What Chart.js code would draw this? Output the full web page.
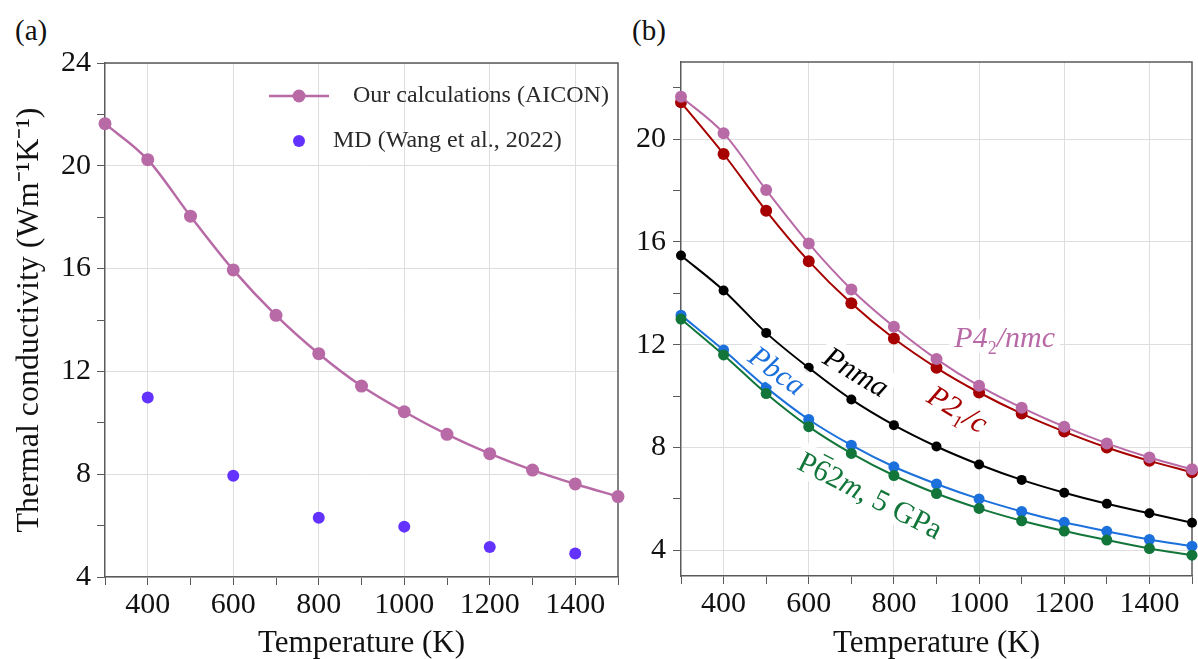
<!DOCTYPE html>
<html>
<head>
<meta charset="utf-8">
<script src="https://cdn.jsdelivr.net/npm/chart.js@4.4.1/dist/chart.umd.min.js"></script>
<style>
  body { margin: 0; background: #fff; width: 1198px; height: 659px; position: relative; overflow: hidden;
         font-family: "Liberation Serif", "Times New Roman", serif; }
  canvas { position: absolute; top: 0; }
  #chartA { left: 0; }
  #chartB { left: 620px; }
  .panel-label { position: absolute; font-size: 29px; color: #111; line-height: 1; }
</style>
</head>
<body>
<div class="panel-label" style="left:15px;top:16px">(a)</div>
<div class="panel-label" style="left:632px;top:16px">(b)</div>
<canvas id="chartA" width="630" height="659"></canvas>
<canvas id="chartB" width="578" height="659"></canvas>
<script>
// temperatures (K)
const temps = [300, 400, 500, 600, 700, 800, 900, 1000, 1100, 1200, 1300, 1400, 1500];

// panel (a)
const aiconVals = [21.64, 20.24, 18.04, 15.95, 14.18, 12.69, 11.43, 10.43, 9.55, 8.80, 8.16, 7.62, 7.13];
const mdTemps = [400, 600, 800, 1000, 1200, 1400];
const mdVals = [10.98, 7.94, 6.31, 5.96, 5.17, 4.91];

// panel (b)
const p42nmcVals = [21.65, 20.23, 18.02, 15.94, 14.15, 12.70, 11.44, 10.40, 9.55, 8.81, 8.16, 7.61, 7.15];
const p21cVals = [21.43, 19.42, 17.21, 15.25, 13.61, 12.24, 11.10, 10.14, 9.32, 8.62, 8.00, 7.48, 7.04];
const pnmaVals = [15.47, 14.11, 12.46, 11.10, 9.87, 8.87, 8.04, 7.34, 6.74, 6.24, 5.81, 5.44, 5.07];
const pbcaVals = [13.15, 11.79, 10.34, 9.09, 8.09, 7.25, 6.58, 6.00, 5.51, 5.09, 4.74, 4.42, 4.16];
const p62mVals = [13.00, 11.60, 10.10, 8.81, 7.77, 6.91, 6.21, 5.63, 5.15, 4.75, 4.40, 4.07, 3.81];

// ticks
const xTicks = [300, 400, 500, 600, 700, 800, 900, 1000, 1100, 1200, 1300, 1400, 1500];
const yTicksA = [4, 6, 8, 10, 12, 14, 16, 18, 20, 22, 24];
const yTicksB = [4, 6, 8, 10, 12, 14, 16, 18, 20, 22];

const PINK = "rgb(184, 106, 166)";
const RED = "rgb(166, 0, 0)";
const BLACK = "rgb(0, 0, 0)";
const BLUE = "rgb(28, 112, 220)";
const GREEN = "rgb(18, 118, 58)";
const VIOLET = "rgb(100, 50, 255)";
const AXIS = "#5a5a5a";
const GRID = "#dedede";
const SERIF = '"Liberation Serif", "Times New Roman", serif';

Chart.defaults.font.family = SERIF;

function toPoints(xs, ys) {
    return xs.map((x, i) => ({ x: x, y: ys[i] }));
}

function lineSet(label, vals, color, radius, width) {
    return {
        label: label,
        data: toPoints(temps, vals),
        borderColor: color,
        backgroundColor: color,
        borderWidth: width,
        pointRadius: radius,
        pointHoverRadius: radius,
        pointBorderWidth: 0,
        cubicInterpolationMode: 'monotone',
        clip: false
    };
}

function makeScales(cfg) {
    return {
        x: {
            type: 'linear', min: 300, max: 1500,
            afterBuildTicks: axis => { axis.ticks = xTicks.map(v => ({ value: v })); },
            afterFit: s => { s.height = cfg.xHeight; },
            ticks: {
                autoSkip: false, maxRotation: 0, padding: 2, color: '#111',
                font: { size: 30 },
                callback: v => (v % 200 === 0 ? String(v) : '')
            },
            grid: {
                color: c => (c.tick && c.tick.value % 200 === 0 ? GRID : 'rgba(0,0,0,0)'),
                tickColor: AXIS, tickLength: 8, lineWidth: 1
            },
            border: { color: AXIS, width: 1.5 },
            title: {
                display: true, text: 'Temperature (K)', color: '#111',
                font: { size: 31 }, padding: { top: 0, bottom: -3 }
            }
        },
        y: {
            type: 'linear', min: cfg.yMin, max: cfg.yMax,
            afterBuildTicks: axis => { axis.ticks = cfg.yTicks.map(v => ({ value: v })); },
            afterFit: s => { s.width = cfg.yWidth; },
            ticks: {
                autoSkip: false, padding: cfg.yPad, color: '#111',
                font: { size: 30 },
                callback: v => (v % 4 === 0 ? String(v) : '')
            },
            grid: {
                color: c => (c.tick && c.tick.value % 4 === 0 ? GRID : 'rgba(0,0,0,0)'),
                tickColor: AXIS, tickLength: 8, lineWidth: 1
            },
            border: { color: AXIS, width: 1.5 },
            title: {
                display: !!cfg.yTitle, text: cfg.yTitle || '', color: '#111',
                font: { size: 32 }, padding: { top: 10, bottom: 0 }
            }
        }
    };
}

// top and right frame lines
const framePlugin = {
    id: 'frame',
    beforeDatasetsDraw(chart) {
        const { ctx, chartArea } = chart;
        ctx.save();
        ctx.strokeStyle = AXIS;
        ctx.lineWidth = 1.5;
        ctx.beginPath();
        ctx.moveTo(chartArea.left, chartArea.top);
        ctx.lineTo(chartArea.right, chartArea.top);
        ctx.lineTo(chartArea.right, chartArea.bottom);
        ctx.stroke();
        ctx.restore();
    }
};

// legend drawn inside the plot, top right
const insideLegend = {
    id: 'insideLegend',
    afterDraw(chart) {
        const { ctx, chartArea } = chart;
        const ds = chart.data.datasets;
        const sx = chartArea.right - 319;
        ctx.save();
        ctx.font = '24px ' + SERIF;
        ctx.textBaseline = 'middle';
        ctx.fillStyle = '#2a2a2a';

        let y = chartArea.top + 33;
        ctx.strokeStyle = ds[0].borderColor;
        ctx.lineWidth = ds[0].borderWidth;
        ctx.beginPath();
        ctx.moveTo(sx - 30, y);
        ctx.lineTo(sx + 30, y);
        ctx.stroke();
        ctx.fillStyle = ds[0].borderColor;
        ctx.beginPath();
        ctx.arc(sx, y, ds[0].pointRadius, 0, Math.PI * 2);
        ctx.fill();
        ctx.fillStyle = '#2a2a2a';
        ctx.fillText(ds[0].label, chartArea.right - 265, y);

        y = chartArea.top + 78;
        ctx.fillStyle = ds[1].backgroundColor;
        ctx.beginPath();
        ctx.arc(sx, y, ds[1].pointRadius, 0, Math.PI * 2);
        ctx.fill();
        ctx.fillStyle = '#2a2a2a';
        ctx.fillText(ds[1].label, chartArea.right - 285, y);
        ctx.restore();
    }
};

// phase labels for panel (b): segments allow subscripts and overbars
const phaseLabels = [
    { x: 1060, y: 12.3, angle: 0, color: PINK,
      parts: [{ t: 'P4', it: true }, { t: '2', sub: true }, { t: '/nmc', it: true }] },
    { x: 950, y: 9.5, angle: 31, color: RED,
      parts: [{ t: 'P2', it: true }, { t: '1', sub: true }, { t: '/c', it: true }] },
    { x: 712, y: 10.95, angle: 31, color: BLACK,
      parts: [{ t: 'Pnma', it: true }] },
    { x: 526, y: 11.0, angle: 36, color: BLUE,
      parts: [{ t: 'Pbca', it: true }] },
    { x: 745, y: 6.15, angle: 27, color: GREEN,
      parts: [{ t: 'P' }, { t: '6', bar: true }, { t: '2' }, { t: 'm', it: true }, { t: ', 5 GPa' }] }
];

function partFont(p, size) {
    return (p.it ? 'italic ' : '') + (p.sub ? Math.round(size * 0.6) : size) + 'px ' + SERIF;
}

const phaseLabelPlugin = {
    id: 'phaseLabels',
    afterDatasetsDraw(chart) {
        const { ctx } = chart;
        const xs = chart.scales.x, ys = chart.scales.y;
        const size = 30;
        ctx.save();
        for (const lab of phaseLabels) {
            let total = 0;
            const widths = lab.parts.map(p => {
                ctx.font = partFont(p, size);
                const w = ctx.measureText(p.t).width;
                total += w;
                return w;
            });
            ctx.save();
            ctx.translate(xs.getPixelForValue(lab.x), ys.getPixelForValue(lab.y));
            ctx.rotate(lab.angle * Math.PI / 180);
            ctx.fillStyle = 'rgba(255,255,255,0.9)';
            ctx.fillRect(-total / 2 - 5, -18, total + 10, 34);
            ctx.fillStyle = lab.color;
            ctx.strokeStyle = lab.color;
            ctx.textBaseline = 'alphabetic';
            let cx = -total / 2;
            lab.parts.forEach((p, i) => {
                ctx.font = partFont(p, size);
                const dy = p.sub ? 7 : 0;
                ctx.fillText(p.t, cx, 10 + dy);
                if (p.bar) {
                    ctx.lineWidth = 1.5;
                    ctx.beginPath();
                    ctx.moveTo(cx + 2, -15);
                    ctx.lineTo(cx + widths[i] - 2, -15);
                    ctx.stroke();
                }
                cx += widths[i];
            });
            ctx.restore();
        }
        ctx.restore();
    }
};

const chartA = new Chart(document.getElementById('chartA'), {
    type: 'line',
    data: {
        datasets: [
            lineSet('Our calculations (AICON)', aiconVals, PINK, 6.5, 2.5),
            {
                label: 'MD (Wang et al., 2022)',
                data: toPoints(mdTemps, mdVals),
                showLine: false,
                borderColor: VIOLET,
                backgroundColor: VIOLET,
                pointRadius: 6,
                pointBorderWidth: 0,
                clip: false
            }
        ]
    },
    options: {
        responsive: false,
        animation: false,
        devicePixelRatio: 1,
        layout: { padding: { top: 63, right: 12, left: 0, bottom: 0 } },
        plugins: { legend: { display: false }, tooltip: { enabled: false } },
        scales: makeScales({
            xHeight: 82, yWidth: 105, yMin: 4, yMax: 24, yTicks: yTicksA, yPad: 6,
            yTitle: 'Thermal conductivity (Wm\u207B\u00B9K\u207B\u00B9)'
        })
    },
    plugins: [framePlugin, insideLegend]
});

const chartB = new Chart(document.getElementById('chartB'), {
    type: 'line',
    data: {
        datasets: [
            lineSet('P4_2/nmc', p42nmcVals, PINK, 6, 2),
            lineSet('P2_1/c', p21cVals, RED, 6, 2),
            lineSet('Pnma', pnmaVals, BLACK, 5, 2),
            lineSet('P-62m, 5 GPa', p62mVals, GREEN, 5.5, 2),
            lineSet('Pbca', pbcaVals, BLUE, 5.5, 2)
        ]
    },
    options: {
        responsive: false,
        animation: false,
        devicePixelRatio: 1,
        layout: { padding: { top: 62, right: 2, left: 0, bottom: 0 } },
        plugins: { legend: { display: false }, tooltip: { enabled: false } },
        scales: makeScales({
            xHeight: 83, yWidth: 61, yMin: 3, yMax: 23, yTicks: yTicksB, yPad: 7
        })
    },
    plugins: [framePlugin, phaseLabelPlugin]
});
</script>
</body>
</html>
